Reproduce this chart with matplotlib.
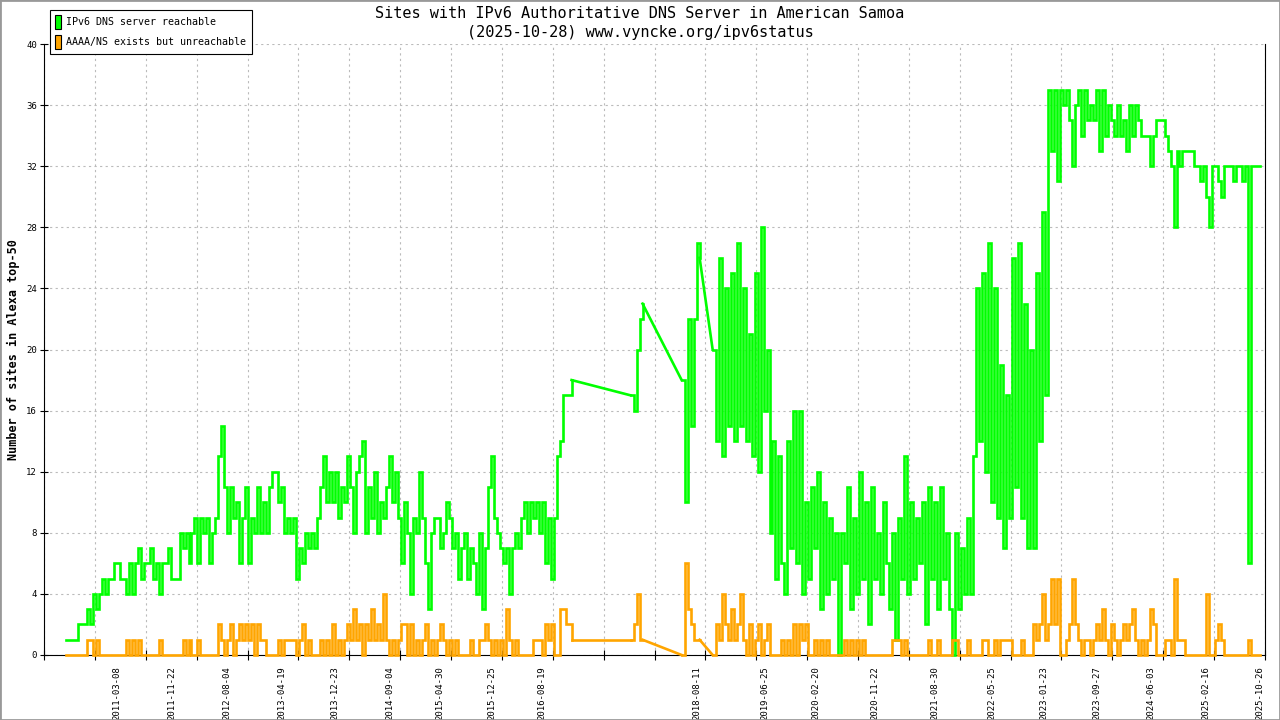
import numpy as np
import matplotlib
matplotlib.use("Agg")
import matplotlib.pyplot as plt
import matplotlib.dates as mdates
from matplotlib.patches import Patch, Rectangle

plt.rcParams["font.family"] = ["DejaVu Sans Mono", "DejaVu Sans"]

# samples every 14 days, data is missing between the segments
step_days = 14
segment_starts = ["2010-07-13", "2017-10-06", "2018-06-02", "2018-10-25"]

green_seg1 = [1, 1, 1, 1, 2, 2, 2, 3, 2, 4,
              3, 4, 5, 4, 5, 5, 6, 6, 5, 5,
              4, 6, 4, 6, 7, 5, 6, 6, 7, 5,
              6, 4, 6, 6, 7, 5, 5, 5, 8, 7,
              8, 6, 8, 9, 6, 9, 8, 9, 6, 8,
              9, 13, 15, 11, 8, 11, 9, 10, 6, 9,
              11, 6, 9, 8, 11, 8, 10, 8, 11, 12,
              12, 10, 11, 8, 9, 8, 9, 5, 7, 6,
              8, 7, 8, 7, 9, 11, 13, 10, 12, 10,
              12, 9, 11, 10, 13, 11, 8, 12, 13, 14,
              8, 11, 9, 12, 8, 10, 9, 11, 13, 10,
              12, 9, 6, 10, 8, 4, 9, 8, 12, 9,
              6, 3, 8, 9, 9, 7, 8, 10, 9, 7,
              8, 5, 7, 8, 5, 7, 6, 4, 8, 3,
              7, 11, 13, 9, 8, 7, 6, 7, 4, 7,
              8, 7, 9, 10, 8, 10, 9, 10, 8, 10,
              6, 9, 5, 9, 13, 14, 17, 17, 17, 18]
green_seg2 = [17, 16, 20, 22, 23]
green_seg3 = [18, 10, 22, 15, 22, 27, 26]
green_seg4 = [20, 14, 26, 13, 24, 15, 25, 14, 27, 15,
              24, 14, 21, 13, 25, 12, 28, 16, 20, 8,
              14, 5, 13, 6, 4, 14, 7, 16, 6, 16,
              4, 10, 5, 11, 7, 12, 3, 10, 4, 9,
              5, 8, 0, 8, 6, 11, 3, 9, 4, 12,
              5, 10, 2, 11, 5, 8, 4, 10, 6, 3,
              8, 1, 9, 5, 13, 4, 10, 5, 9, 6,
              10, 2, 11, 5, 10, 3, 11, 5, 8, 3,
              0, 8, 3, 7, 4, 9, 4, 13, 24, 14,
              25, 12, 27, 10, 24, 9, 19, 7, 17, 9,
              26, 11, 27, 9, 23, 7, 20, 7, 25, 14,
              29, 17, 37, 33, 37, 31, 37, 36, 37, 35,
              32, 36, 37, 34, 37, 35, 36, 35, 37, 33,
              37, 34, 36, 35, 34, 36, 34, 35, 33, 36,
              34, 36, 35, 34, 34, 34, 32, 34, 35, 35,
              35, 34, 33, 32, 28, 33, 32, 33, 33, 33,
              33, 32, 32, 31, 32, 30, 28, 32, 32, 31,
              30, 32, 32, 32, 31, 32, 32, 31, 32, 6,
              32, 32, 32, 32]

orange_seg1 = [0, 0, 0, 0, 0, 0, 0, 1, 1, 0,
               1, 0, 0, 0, 0, 0, 0, 0, 0, 0,
               1, 0, 1, 0, 1, 0, 0, 0, 0, 0,
               0, 1, 0, 0, 0, 0, 0, 0, 0, 1,
               0, 1, 0, 0, 1, 0, 0, 0, 0, 0,
               0, 2, 1, 0, 1, 2, 0, 1, 2, 1,
               2, 1, 2, 0, 2, 1, 1, 0, 0, 0,
               0, 1, 0, 1, 1, 1, 1, 0, 1, 2,
               0, 1, 0, 0, 0, 1, 0, 1, 0, 2,
               0, 1, 0, 1, 2, 1, 3, 1, 2, 0,
               2, 1, 3, 1, 2, 1, 4, 1, 0, 1,
               0, 1, 2, 2, 0, 2, 0, 1, 0, 1,
               2, 0, 1, 0, 1, 2, 1, 0, 1, 0,
               1, 0, 0, 0, 0, 1, 0, 0, 1, 1,
               2, 1, 0, 1, 0, 1, 0, 3, 1, 0,
               1, 0, 0, 0, 0, 0, 1, 1, 1, 0,
               2, 1, 2, 0, 0, 3, 3, 2, 2, 1]
orange_seg2 = [1, 2, 4, 1, 1]
orange_seg3 = [0, 6, 3, 2, 1, 1, 1]
orange_seg4 = [0, 2, 1, 4, 2, 1, 3, 1, 2, 4,
               1, 0, 2, 0, 1, 2, 0, 1, 2, 0,
               0, 0, 0, 1, 0, 1, 0, 2, 0, 2,
               1, 2, 0, 0, 1, 0, 1, 0, 1, 0,
               0, 0, 0, 0, 1, 0, 1, 0, 1, 0,
               1, 0, 0, 0, 0, 0, 0, 0, 0, 0,
               1, 1, 1, 0, 1, 0, 0, 0, 0, 0,
               0, 0, 1, 0, 0, 1, 0, 0, 0, 0,
               1, 1, 0, 0, 0, 1, 0, 0, 0, 0,
               1, 1, 0, 0, 1, 0, 1, 1, 1, 1,
               0, 0, 0, 1, 0, 0, 0, 2, 1, 2,
               4, 1, 2, 5, 2, 5, 0, 0, 1, 2,
               5, 2, 1, 0, 1, 1, 0, 1, 2, 1,
               3, 1, 0, 2, 1, 0, 1, 2, 1, 2,
               3, 1, 0, 1, 0, 1, 3, 2, 0, 0,
               0, 1, 1, 0, 5, 1, 1, 1, 0, 0,
               0, 0, 0, 0, 0, 4, 0, 0, 1, 2,
               1, 0, 0, 0, 0, 0, 0, 0, 0, 1,
               0, 0, 0, 0]

label_dates = ["2011-03-08", "2011-11-22", "2012-08-04", "2013-04-19",
               "2013-12-23", "2014-09-04", "2015-04-30", "2015-12-25",
               "2016-08-19", "2018-08-11", "2019-06-25", "2020-02-20",
               "2020-11-22", "2021-08-30", "2022-05-25", "2023-01-23",
               "2023-09-27", "2024-06-03", "2025-02-16", "2025-10-26"]

green_col = "#00ff00"
orange_col = "#ffa500"


def build(segments):
    out = []
    for start, vals in zip(segment_starts, segments):
        d = np.datetime64(start) + np.arange(len(vals)) * np.timedelta64(step_days, "D")
        out.append((mdates.date2num(d), np.array(vals, dtype=float)))
    return out


def draw(ax, segs, color, z):
    for i, (x, y) in enumerate(segs):
        ax.plot(x, y, color=color, lw=1.9, drawstyle="steps-post",
                clip_on=False, zorder=z, solid_joinstyle="miter")
        if i > 0:
            # no data in between: the line just connects the samples
            px, py = segs[i - 1]
            ax.plot([px[-1], x[0]], [py[-1], y[0]], color=color, lw=1.9,
                    clip_on=False, zorder=z)


green = build([green_seg1, green_seg2, green_seg3, green_seg4])
orange = build([orange_seg1, orange_seg2, orange_seg3, orange_seg4])

fig = plt.figure(figsize=(12.8, 7.2), dpi=100)
ax = fig.add_axes([44 / 1280, 65 / 720, 1221 / 1280, 611 / 720])

draw(ax, green, green_col, 4)
draw(ax, orange, orange_col, 5)

# grid / minor ticks every 238 days
grid_ticks = mdates.date2num(np.datetime64("2010-04-02") + np.arange(25) * np.timedelta64(238, "D"))
ax.set_xlim(grid_ticks[0], grid_ticks[-1])
ax.set_ylim(0, 40)

ax.set_xticks(mdates.date2num(np.array(label_dates, dtype="datetime64[D]")))
ax.set_xticklabels(label_dates, rotation=90, fontsize=6.5)
ax.set_xticks(grid_ticks, minor=True)
ax.tick_params(axis="x", which="major", length=0, pad=8)
ax.tick_params(axis="x", which="minor", direction="inout", length=7, width=0.8)

ax.set_yticks(np.arange(0, 41, 4))
ax.tick_params(axis="y", direction="inout", length=6, width=0.8, labelsize=6.5, pad=2)

ax.grid(True, axis="x", which="minor", color="#bbbbbb", linestyle=(0, (2, 3)), lw=0.8)
ax.grid(True, axis="y", which="major", color="#bbbbbb", linestyle=(0, (2, 3)), lw=0.8)
ax.set_axisbelow(True)

ax.spines["top"].set_visible(False)
for s in ["left", "bottom", "right"]:
    ax.spines[s].set_linewidth(0.8)
    ax.spines[s].set_color("black")

fig.text(0.5, 1 - 14 / 720, "Sites with IPv6 Authoritative DNS Server in American Samoa",
         ha="center", va="center", fontsize=11)
fig.text(0.5, 1 - 32 / 720, "(2025-10-28) www.vyncke.org/ipv6status",
         ha="center", va="center", fontsize=11)
fig.text(13 / 1280, 1 - 350 / 720, "Number of sites in Alexa top-50", rotation=90,
         ha="center", va="center", fontsize=8.5, fontweight="bold")

handles = [Patch(facecolor=green_col, edgecolor="black", lw=0.8, label="IPv6 DNS server reachable"),
           Patch(facecolor=orange_col, edgecolor="black", lw=0.8, label="AAAA/NS exists but unreachable")]
leg = fig.legend(handles=handles, loc="upper left", bbox_to_anchor=(50 / 1280, 1 - 10 / 720),
                 fontsize=7.2, fancybox=False, framealpha=1, edgecolor="black",
                 handlelength=0.55, handleheight=1.8, handletextpad=0.6,
                 labelspacing=0.55, borderpad=0.5, borderaxespad=0)
leg.get_frame().set_linewidth(0.8)

fig.patches.append(Rectangle((0, 0), 1, 1, transform=fig.transFigure, fill=False,
                             edgecolor="#999999", lw=2))

fig.savefig("out.png", dpi=100)
